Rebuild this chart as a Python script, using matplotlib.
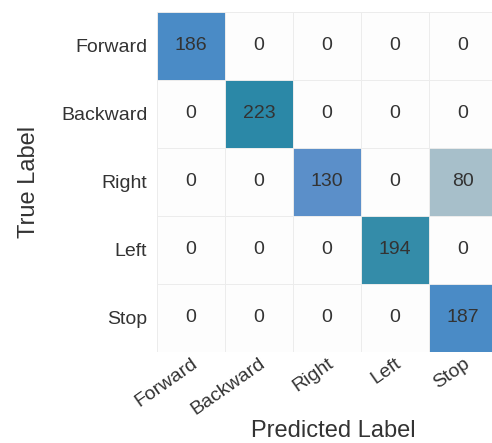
import numpy as np
import matplotlib
matplotlib.use("Agg")
from matplotlib import pyplot as plt
from matplotlib.colors import ListedColormap, BoundaryNorm

plt.rcParams['font.family'] = ['Liberation Sans', 'DejaVu Sans']

# class names and confusion counts (rows = true, cols = predicted)
labels = ["Forward", "Backward", "Right", "Left", "Stop"]
counts = [
    [186, 0, 0, 0, 0],
    [0, 223, 0, 0, 0],
    [0, 0, 130, 0, 80],
    [0, 0, 0, 194, 0],
    [0, 0, 0, 0, 187],
]

# the scan has odd per-value tints, so use a stepped colormap
bounds = [0, 1, 100, 160, 190, 200, 230]
cell_cols = ["#fdfdfd", "#a7bfca", "#5b8fc9", "#4a8bc6", "#348ca9", "#2b88a7"]
cmap = ListedColormap(cell_cols)
norm = BoundaryNorm(bounds, cmap.N)

cm = np.array(counts)

fig = plt.figure(figsize=(4.92, 4.43), dpi=100)
ax = fig.add_axes([157 / 492, 1 - 352 / 443, 340 / 492, 340 / 443])
ax.imshow(cm, cmap=cmap, norm=norm, aspect='auto')

# faint lines between cells
for k in range(len(labels) + 1):
    ax.axhline(k - 0.5, color="#ececec", lw=0.7, zorder=0.5)
    ax.axvline(k - 0.5, color="#ececec", lw=0.7, zorder=0.5)

for i in range(len(labels)):
    for j in range(len(labels)):
        ax.text(j, i, str(cm[i, j]), ha='center', va='center',
                fontsize=14, color="#333333")

ax.set_xticks(range(len(labels)))
ax.set_yticks(range(len(labels)))
ax.set_xticklabels(labels, rotation=35, ha='right', rotation_mode='anchor',
                   fontsize=14, color="#333333")
ax.set_yticklabels(labels, fontsize=14, color="#333333")
ax.tick_params(axis='y', length=0, pad=7)
ax.tick_params(axis='x', length=0, pad=2)
for s in ax.spines.values():
    s.set_visible(False)

ax.set_xlabel("Predicted Label", fontsize=17, color="#333333")
ax.set_ylabel("True Label", fontsize=17, color="#333333")
ax.xaxis.set_label_coords(0.52, -0.2)
ax.yaxis.set_label_coords(-0.345, 0.5)

fig.savefig("out.png", dpi=100, facecolor="white")
